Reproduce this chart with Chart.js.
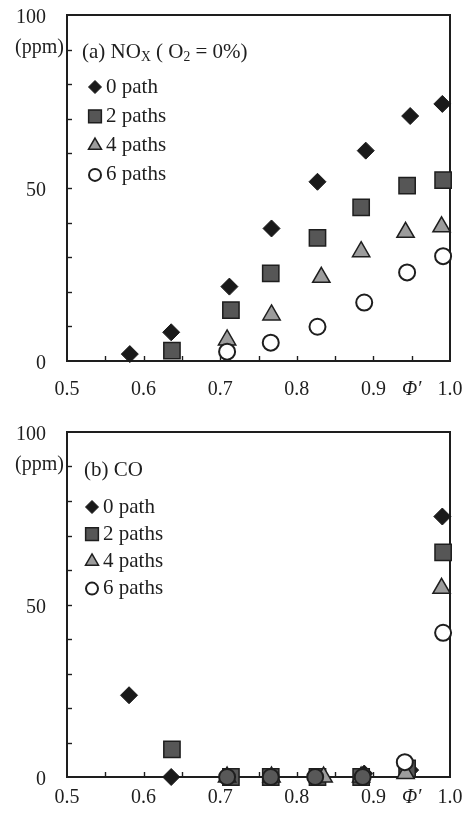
<!DOCTYPE html>
<html>
<head>
<meta charset="utf-8">
<script src="https://cdn.jsdelivr.net/npm/chart.js@4.4.1/dist/chart.umd.min.js"></script>
<style>
  html, body { margin: 0; padding: 0; background: #fff; }
  .panel { position: absolute; left: 0; width: 463px; height: 408px; }
  #panel-a { top: 0; }
  #panel-b { top: 408px; }
</style>
</head>
<body>
<div class="panel" id="panel-a"><canvas id="nox-chart" width="463" height="408"></canvas></div>
<div class="panel" id="panel-b"><canvas id="co-chart" width="463" height="408"></canvas></div>
<script>
// Series labels
const seriesNames = ['0 path', '2 paths', '4 paths', '6 paths'];

// (a) NOx, O2 = 0%  -- equivalence ratio Φ' vs ppm
const noxPhi0 = [0.582, 0.636, 0.712, 0.767, 0.827, 0.890, 0.948, 0.990];
const nox0 = [2.0, 8.3, 21.5, 38.3, 51.8, 60.8, 70.8, 74.3];
const noxPhi2 = [0.637, 0.714, 0.766, 0.827, 0.884, 0.944, 0.991];
const nox2 = [3.0, 14.7, 25.3, 35.6, 44.4, 50.7, 52.3];
const noxPhi4 = [0.709, 0.767, 0.832, 0.884, 0.942, 0.989];
const nox4 = [6.1, 13.3, 24.2, 31.6, 37.2, 38.8];
const noxPhi6 = [0.709, 0.766, 0.827, 0.888, 0.944, 0.991];
const nox6 = [2.7, 5.3, 9.9, 16.9, 25.6, 30.3];

// (b) CO
const coPhi0 = [0.581, 0.636, 0.712, 0.767, 0.827, 0.888, 0.948, 0.990];
const co0 = [23.7, 0, 0, 0, 0, 1.0, 2.0, 75.5];
const coPhi2 = [0.637, 0.714, 0.766, 0.827, 0.884, 0.944, 0.991];
const co2 = [8.0, 0, 0, 0, 0, 2.5, 65.1];
const coPhi4 = [0.709, 0.767, 0.835, 0.884, 0.942, 0.989];
const co4 = [0, 0, 0, 0, 1.0, 54.7];
const coPhi6 = [0.709, 0.766, 0.824, 0.886, 0.941, 0.991];
const co6 = [0, 0, 0, 0, 4.3, 41.8];

// Axis ranges / labelled ticks
const xMin = 0.5, xMax = 1.0, xStep = 0.05;
const yMin = 0, yMax = 100, yStep = 10;
const xLabelled = [0.5, 0.6, 0.7, 0.8, 0.9, 1.0];
const yLabelled = [0, 50, 100];
const phiLabel = 'Φ′';

const SERIF = '"Liberation Serif", "DejaVu Serif", serif';
const INK = '#1e1e1e';

const markerStyles = [
    { pointStyle: 'rectRot', radius: 8.5, legendRadius: 6.5, fill: '#1a1a1a', border: '#1a1a1a', width: 1 },
    { pointStyle: 'rect', radius: 11.5, legendRadius: 9, fill: '#565656', border: '#1e1e1e', width: 1.5 },
    { pointStyle: 'triangle', radius: 10, legendRadius: 7.5, fill: '#9c9c9c', border: '#1e1e1e', width: 1.5 },
    { pointStyle: 'circle', radius: 8, legendRadius: 6, fill: '#ffffff', border: '#1e1e1e', width: 2 }
];

function toPoints(xs, ys) {
    return xs.map((x, i) => ({ x: x, y: ys[i] }));
}

function makeDatasets(pairs, grayZeroCircles) {
    return pairs.map(([xs, ys], i) => {
        const st = markerStyles[i];
        let bg = st.fill;
        if (i === 3 && grayZeroCircles) {
            bg = ctx => (ctx.raw && ctx.raw.y === 0 ? '#585858' : st.fill);
        }
        return {
            label: seriesNames[i],
            data: toPoints(xs, ys),
            pointStyle: st.pointStyle,
            pointRadius: st.radius,
            pointHoverRadius: st.radius,
            backgroundColor: bg,
            borderColor: st.border,
            borderWidth: st.width,
            showLine: false,
            clip: false,
            order: 4 - i
        };
    });
}

// draws text made of runs, some as subscripts
function drawRuns(ctx, x, y, runs, size) {
    let cx = x;
    runs.forEach(([txt, sub]) => {
        const s = sub ? size * 0.65 : size;
        ctx.font = s + 'px ' + SERIF;
        ctx.fillText(txt, cx, sub ? y + size * 0.28 : y);
        cx += ctx.measureText(txt).width;
    });
}

function framePlugin(cfg) {
    return {
        id: 'frame',
        beforeDatasetsDraw(chart) {
            const { ctx, chartArea: a, scales } = chart;
            ctx.save();
            ctx.strokeStyle = INK;
            ctx.lineWidth = 2;
            ctx.strokeRect(a.left, a.top, a.right - a.left, a.bottom - a.top);
            ctx.lineWidth = 1.4;
            // inward ticks on the y axis
            scales.y.ticks.forEach(t => {
                if (t.value <= yMin || t.value >= yMax) return;
                const py = Math.round(scales.y.getPixelForValue(t.value)) + 0.5;
                ctx.beginPath();
                ctx.moveTo(a.left, py);
                ctx.lineTo(a.left + 5, py);
                ctx.stroke();
            });
            // inward ticks on the x axis
            scales.x.ticks.forEach(t => {
                if (t.value <= xMin + 1e-6 || t.value >= xMax - 1e-6) return;
                const px = Math.round(scales.x.getPixelForValue(t.value)) + 0.5;
                ctx.beginPath();
                ctx.moveTo(px, a.bottom);
                ctx.lineTo(px, a.bottom - 5);
                ctx.stroke();
            });
            ctx.restore();
        },
        afterDraw(chart) {
            const { ctx, scales } = chart;
            ctx.save();
            ctx.fillStyle = INK;
            ctx.textBaseline = 'middle';
            // unit label beside the 90 tick
            ctx.textAlign = 'right';
            ctx.font = '20px ' + SERIF;
            ctx.fillText('(ppm)', 64, scales.y.getPixelForValue(90) - 2);
            ctx.textAlign = 'left';
            drawRuns(ctx, cfg.titleX, cfg.titleY, cfg.title, 21);
            // legend
            seriesNames.forEach((name, i) => {
                const st = markerStyles[i];
                const y = cfg.legendY + i * cfg.legendGap;
                ctx.fillStyle = st.fill;
                ctx.strokeStyle = st.border;
                ctx.lineWidth = st.width;
                Chart.helpers.drawPoint(ctx, { pointStyle: st.pointStyle, radius: st.legendRadius, borderWidth: st.width }, cfg.markerX, y);
                ctx.fillStyle = INK;
                ctx.font = '21px ' + SERIF;
                ctx.fillText(name, cfg.textX, y);
            });
            ctx.restore();
        }
    };
}

function makeChart(canvasId, datasets, cfg) {
    return new Chart(document.getElementById(canvasId), {
        type: 'scatter',
        data: { datasets: datasets },
        options: {
            responsive: false,
            animation: false,
            devicePixelRatio: 1,
            layout: { padding: { top: cfg.top, right: 13, left: 0, bottom: 0 } },
            plugins: { legend: { display: false }, tooltip: { enabled: false } },
            scales: {
                x: {
                    type: 'linear',
                    min: xMin,
                    max: xMax,
                    grid: { display: false, drawTicks: false, tickLength: 0 },
                    border: { display: false },
                    afterFit: s => {
                        s.height = cfg.xHeight;
                        s.paddingLeft = 0;
                        s.paddingRight = 0;
                    },
                    ticks: {
                        stepSize: xStep,
                        autoSkip: false,
                        maxRotation: 0,
                        padding: cfg.xPad,
                        color: INK,
                        font: c => {
                            const v = c.tick ? Math.round(c.tick.value * 100) : 0;
                            return v === 95
                                ? { family: SERIF, size: 20, style: 'italic' }
                                : { family: SERIF, size: 20 };
                        },
                        callback: v => {
                            const r = Math.round(v * 100);
                            if (r === 95) return phiLabel;
                            return xLabelled.some(l => Math.round(l * 100) === r) ? (r / 100).toFixed(1) : '';
                        }
                    }
                },
                y: {
                    min: yMin,
                    max: yMax,
                    grid: { display: false, drawTicks: false, tickLength: 0 },
                    border: { display: false },
                    afterFit: s => {
                        s.width = 67;
                        s.paddingTop = 0;
                        s.paddingBottom = 0;
                    },
                    ticks: {
                        stepSize: yStep,
                        padding: 21,
                        labelOffset: 3,
                        color: INK,
                        font: { family: SERIF, size: 20 },
                        callback: v => (yLabelled.includes(v) ? String(v) : '')
                    }
                }
            }
        },
        plugins: [framePlugin(cfg)]
    });
}

makeChart('nox-chart',
    makeDatasets([[noxPhi0, nox0], [noxPhi2, nox2], [noxPhi4, nox4], [noxPhi6, nox6]], false),
    {
        top: 15, xHeight: 47, xPad: 17,
        title: [['(a) NO', false], ['X', true], [' ( O', false], ['2', true], [' = 0%)', false]],
        titleX: 82, titleY: 52,
        legendY: 87, legendGap: 29.3, markerX: 95, textX: 106
    });

makeChart('co-chart',
    makeDatasets([[coPhi0, co0], [coPhi2, co2], [coPhi4, co4], [coPhi6, co6]], true),
    {
        top: 24, xHeight: 39, xPad: 9,
        title: [['(b) CO', false]],
        titleX: 84, titleY: 62,
        legendY: 99, legendGap: 27.2, markerX: 92, textX: 103
    });
</script>
</body>
</html>
